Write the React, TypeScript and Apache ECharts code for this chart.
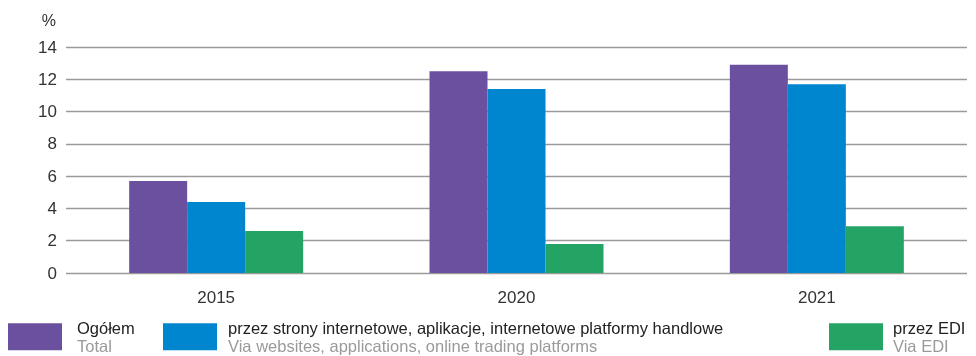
import React, { useEffect, useRef } from "react";
import * as echarts from "echarts";

const categories = ["2015", "2020", "2021"];
const seriesNames = ["Ogółem", "przez strony internetowe, aplikacje, internetowe platformy handlowe", "przez EDI"];
const seriesSubNames = ["Total", "Via websites, applications, online trading platforms", "Via EDI"];
const totalValues = [5.7, 12.5, 12.9];
const webValues = [4.4, 11.4, 11.7];
const ediValues = [2.6, 1.8, 2.9];
const colors = ["#6c50a0", "#0085cf", "#23a465"];
const legendLefts = [8, 163, 829];
const legendTextPads = [10, 6, 5];

export default function App() {
  const ref = useRef<HTMLDivElement>(null);
  useEffect(() => {
    if (!ref.current) return;
    const chart = echarts.init(ref.current, undefined, { renderer: "svg" });
    const font = "'Liberation Sans', Arial, sans-serif";
    const values = [totalValues, webValues, ediValues];
    chart.setOption({
      animation: false,
      textStyle: { fontFamily: font },
      grid: { left: 66, right: 9, top: 47, bottom: 83, containLabel: false },
      legend: seriesNames.map((n, i) => ({
        data: [n],
        left: legendLefts[i],
        top: 319,
        padding: 0,
        itemWidth: 54,
        itemHeight: 27,
        icon: "rect",
        selectedMode: false,
        formatter: (name: string) => `{a|${name}}\n{b|${seriesSubNames[seriesNames.indexOf(name)]}}`,
        textStyle: {
          padding: [0, 0, 0, legendTextPads[i]],
          rich: {
            a: { fontSize: 16.5, color: "#222", lineHeight: 18.5, fontFamily: font },
            b: { fontSize: 16.5, color: "#9a9a9a", lineHeight: 18.5, fontFamily: font },
          },
        },
      })),
      xAxis: {
        type: "category",
        data: categories,
        axisLine: { show: false },
        axisTick: { show: false },
        axisLabel: { fontSize: 17, color: "#333", margin: 16, fontFamily: font },
      },
      yAxis: {
        type: "value",
        min: 0,
        max: 14,
        interval: 2,
        name: "%",
        nameLocation: "end",
        nameGap: 19,
        nameTextStyle: { fontSize: 16, color: "#333", align: "right", padding: [0, 10, 0, 0], fontFamily: font },
        axisLine: { show: false },
        axisTick: { show: false },
        axisLabel: { fontSize: 17, color: "#333", margin: 9, fontFamily: font },
        splitLine: { lineStyle: { color: "#9a9a9a", width: 1.4 } },
      },
      series: seriesNames.map((n, i) => ({
        name: n,
        type: "bar",
        data: values[i],
        barWidth: 58,
        barGap: "0%",
        itemStyle: { color: colors[i] },
      })),
    });
    return () => chart.dispose();
  }, []);
  return <div ref={ref} style={{ position: "fixed", left: 0, top: 0, width: 976, height: 356 }} />;
}
